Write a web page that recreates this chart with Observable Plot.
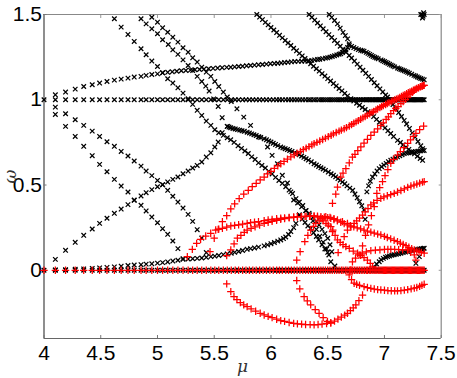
<!DOCTYPE html>
<html><head><meta charset="utf-8">
<script src="https://cdn.jsdelivr.net/npm/d3@7"></script>
<script src="https://cdn.jsdelivr.net/npm/@observablehq/plot@0.6"></script>
<style>html,body{margin:0;padding:0;background:#fff}svg{display:block}</style>
</head><body><div id="chart"></div>
<script>
const xTicks=[4,4.5,5,5.5,6,6.5,7,7.5];
const yTicks=[0,0.5,1,1.5];
const muGrid=[4,4.1,4.19,4.275,4.35,4.425,4.49,4.555,4.62,4.68,4.74,4.795,4.855,4.9,4.95,5,5.045,5.09,5.135,5.18,5.225,5.27,5.31,5.35,5.39,5.43,5.47,5.505,5.54,5.58,5.615,5.65,5.685,5.715,5.75,5.78,5.81,5.84,5.87,5.9,5.93,5.96,5.99,6.02,6.05,6.075,6.1,6.13,6.155,6.18,6.205,6.23,6.255,6.28,6.305,6.33,6.35,6.375,6.395,6.42,6.44,6.46,6.48,6.5,6.52,6.54,6.56,6.58,6.6,6.62,6.635,6.655,6.67,6.69,6.705,6.72,6.735,6.75,6.765,6.78,6.795,6.81,6.825,6.84,6.85,6.865,6.875,6.89,6.9,6.915,6.925,6.935,6.95,6.96,6.97,6.98,6.99,7,7.01,7.02,7.03,7.04,7.05,7.06,7.07,7.08,7.09,7.1,7.11,7.12,7.13,7.14,7.15,7.16,7.17,7.18,7.19,7.2,7.21,7.22,7.23,7.24,7.25,7.26,7.27,7.28,7.29,7.3,7.31,7.32,7.33,7.34,7.35];
const flatLevelsBlack=[0,1];
const flatLevelRed=[0];
// black branches [mu, omega]
const blackRise=[[4.1,.064],[4.19,.117],[4.275,.164],[4.35,.205],[4.425,.242],[4.49,.275],[4.555,.305],[4.62,.334],[4.68,.359],[4.74,.385],[4.795,.412],[4.855,.436],[4.9,.455],[4.95,.473],[5,.49],[5.045,.502],[5.09,.518],[5.135,.533],[5.18,.547],[5.225,.566],[5.27,.582],[5.31,.6],[5.35,.615],[5.39,.635],[5.43,.664],[5.47,.689],[5.505,.723],[5.535,.752],[5.57,.807]];
const blackL1=[[4.1,.957],[4.19,.918],[4.275,.883],[4.35,.85],[4.425,.816],[4.49,.785],[4.555,.754],[4.62,.727],[4.68,.697],[4.74,.67],[4.795,.641],[4.855,.611],[4.9,.582],[4.95,.555],[5,.527],[5.045,.502],[5.09,.469],[5.135,.434],[5.18,.4],[5.225,.365],[5.27,.328],[5.31,.287],[5.35,.238],[5.39,.189],[5.43,.104]];
const blackL2=[[4.1,.914],[4.19,.844],[4.275,.785],[4.35,.727],[4.425,.672],[4.49,.621],[4.555,.578],[4.62,.533],[4.68,.494],[4.74,.459],[4.795,.41],[4.855,.381],[4.9,.348],[4.95,.312],[5,.279],[5.045,.244],[5.09,.211],[5.135,.172],[5.18,.127],[5.225,.068]];
const blackM=[[4.62,1.475],[4.68,1.426],[4.74,1.383],[4.795,1.342],[4.855,1.299],[4.9,1.264],[4.95,1.227],[5,1.195],[5.045,1.158],[5.09,1.123],[5.135,1.098],[5.18,1.07],[5.225,1.039],[5.27,1.006],[5.31,.973],[5.35,.938],[5.39,.908],[5.43,.875],[5.47,.85],[5.505,.824],[5.54,.807],[5.58,.791],[5.615,.777],[5.645,.765],[5.675,.75],[5.71,.73],[5.74,.715],[5.77,.7],[5.8,.685],[5.83,.665],[5.86,.65],[5.89,.63],[5.92,.615],[5.95,.6],[5.98,.58],[6.01,.565],[6.04,.545],[6.07,.527],[6.1,.51],[6.13,.49],[6.16,.47],[6.19,.45],[6.22,.42],[6.25,.4],[6.28,.38],[6.31,.35],[6.34,.325],[6.37,.29],[6.4,.24],[6.43,.2],[6.46,.165],[6.49,.125],[6.51,.09]];
const blackN1=[[4.855,1.475],[4.9,1.445],[4.95,1.416],[5,1.387],[5.045,1.352],[5.095,1.324],[5.135,1.293],[5.18,1.266],[5.225,1.234],[5.27,1.201],[5.31,1.172],[5.35,1.137],[5.39,1.107],[5.425,1.08],[5.455,1.051],[5.495,1.005],[5.535,.961],[5.57,.895],[5.615,.844]];
const blackN2=[[4.95,1.484],[5,1.455],[5.045,1.422],[5.09,1.396],[5.135,1.367],[5.18,1.338],[5.225,1.305],[5.27,1.279],[5.31,1.246],[5.35,1.221],[5.39,1.191],[5.43,1.162],[5.47,1.137],[5.505,1.107],[5.54,1.078],[5.58,1.045],[5.615,1.016],[5.65,.99],[5.7,.947],[5.76,.898],[5.82,.85],[5.895,.781],[5.97,.723],[6.01,.674],[6.057,.625],[6.1,.557],[6.145,.512],[6.175,.46],[6.2,.412],[6.235,.395],[6.27,.372],[6.305,.35],[6.336,.334],[6.37,.31],[6.4,.285],[6.424,.266],[6.45,.24],[6.475,.215],[6.5,.188],[6.52,.15],[6.536,.109]];
const blackBand=[[5.615,.844],[5.63,.84],[5.645,.836],[5.665,.832],[5.685,.829],[5.705,.825],[5.725,.822],[5.745,.818],[5.765,.815],[5.79,.81],[5.81,.805],[5.83,.8],[5.85,.795],[5.87,.79],[5.89,.784],[5.91,.779],[5.94,.771],[5.96,.765],[5.98,.758],[6,.752],[6.02,.745],[6.04,.738],[6.06,.731],[6.086,.723],[6.105,.718],[6.125,.713],[6.145,.708],[6.165,.703],[6.185,.697],[6.21,.69],[6.233,.684],[6.25,.678],[6.27,.67],[6.29,.662],[6.31,.654],[6.33,.646],[6.355,.636],[6.38,.625],[6.4,.617],[6.42,.609],[6.44,.601],[6.46,.594],[6.48,.586],[6.505,.576],[6.53,.566],[6.55,.557],[6.57,.548],[6.59,.538],[6.61,.528],[6.63,.518],[6.65,.507],[6.67,.495],[6.695,.482],[6.72,.469],[6.74,.447],[6.76,.425],[6.78,.402],[6.8,.378],[6.82,.354],[6.83,.299]];
const blackUpper=[[4.1,1.029],[4.19,1.045],[4.275,1.0625],[4.35,1.078],[4.425,1.088],[4.49,1.098],[4.555,1.107],[4.62,1.115],[4.68,1.121],[4.74,1.127],[4.795,1.133],[4.855,1.137],[4.9,1.143],[4.95,1.148],[5,1.152],[5.045,1.158],[5.09,1.161],[5.13,1.164],[5.17,1.167],[5.21,1.17],[5.25,1.172],[5.29,1.174],[5.33,1.176],[5.37,1.178],[5.41,1.18],[5.45,1.182],[5.49,1.184],[5.53,1.186],[5.57,1.188],[5.61,1.19],[5.645,1.191],[5.68,1.193],[5.715,1.195],[5.75,1.197],[5.785,1.199],[5.82,1.201],[5.855,1.203],[5.89,1.205],[5.925,1.207],[5.96,1.209],[5.995,1.211],[6.03,1.213],[6.06,1.214],[6.09,1.216],[6.12,1.218],[6.15,1.22],[6.18,1.222],[6.21,1.224],[6.24,1.225],[6.27,1.226],[6.3,1.227],[6.336,1.228],[6.36,1.231],[6.385,1.234],[6.41,1.236],[6.43,1.238],[6.455,1.241],[6.48,1.244],[6.5,1.246],[6.52,1.25],[6.54,1.254],[6.56,1.258],[6.58,1.263],[6.6,1.267],[6.615,1.27],[6.63,1.277],[6.645,1.284],[6.66,1.293],[6.675,1.306],[6.69,1.318],[6.71,1.313],[6.73,1.306],[6.75,1.3],[6.77,1.294],[6.79,1.29],[6.805,1.287],[6.82,1.285],[6.84,1.278],[6.855,1.272],[6.87,1.266],[6.885,1.26],[6.9,1.254],[6.915,1.249],[6.93,1.245],[6.945,1.24],[6.97,1.234],[6.985,1.229],[7,1.224],[7.015,1.219],[7.03,1.214],[7.045,1.208],[7.06,1.203],[7.075,1.198],[7.09,1.193],[7.115,1.186],[7.13,1.182],[7.145,1.178],[7.16,1.174],[7.175,1.17],[7.19,1.165],[7.205,1.161],[7.22,1.156],[7.24,1.15],[7.26,1.143],[7.275,1.139],[7.29,1.134],[7.305,1.129],[7.32,1.125],[7.335,1.121],[7.35,1.117]];
const blackT1=[[5.875,1.5],[5.9,1.485],[5.925,1.47],[5.95,1.454],[5.975,1.439],[6,1.424],[6.025,1.409],[6.05,1.394],[6.075,1.378],[6.1,1.363],[6.125,1.348],[6.15,1.333],[6.175,1.318],[6.2,1.302],[6.225,1.287],[6.25,1.272],[6.275,1.257],[6.3,1.242],[6.325,1.226],[6.35,1.211],[6.375,1.197],[6.4,1.182],[6.425,1.168],[6.45,1.153],[6.475,1.139],[6.5,1.124],[6.525,1.11],[6.55,1.095],[6.575,1.081],[6.6,1.066],[6.625,1.052],[6.65,1.037],[6.675,1.023],[6.704,1.006],[6.73,.993],[6.755,.98],[6.78,.968],[6.805,.955],[6.83,.943],[6.855,.93],[6.88,.918],[6.905,.901],[6.93,.885],[6.955,.868],[6.98,.851],[7.005,.835],[7.03,.818],[7.055,.802],[7.08,.785],[7.115,.762],[7.14,.749],[7.165,.736],[7.19,.722],[7.215,.709],[7.24,.696],[7.265,.683],[7.29,.669],[7.315,.656],[7.336,.645]];
const blackT2=[[6.336,1.5],[6.36,1.484],[6.385,1.467],[6.41,1.45],[6.435,1.433],[6.46,1.416],[6.485,1.399],[6.51,1.382],[6.535,1.365],[6.56,1.348],[6.585,1.331],[6.61,1.314],[6.635,1.297],[6.66,1.28],[6.689,1.26],[6.71,1.245],[6.735,1.227],[6.76,1.209],[6.785,1.191],[6.81,1.173],[6.835,1.155],[6.86,1.137],[6.885,1.119],[6.91,1.1],[6.935,1.082],[6.96,1.064],[6.985,1.046],[7.01,1.028],[7.027,1.016],[7.05,.995],[7.075,.972],[7.1,.948],[7.125,.925],[7.15,.902],[7.174,.879],[7.195,.858],[7.22,.832],[7.245,.806],[7.27,.781],[7.295,.755],[7.32,.73],[7.336,.713]];
const blackT3=[[6.513,1.5],[6.535,1.483],[6.56,1.465],[6.586,1.445],[6.61,1.42],[6.635,1.395],[6.655,1.376],[6.675,1.357],[6.689,1.328]];
const blackT4=[[6.845,.46],[6.86,.495],[6.875,.522],[6.895,.547],[6.915,.565],[6.935,.582],[6.954,.596],[6.975,.607],[6.995,.617],[7.015,.627],[7.035,.637],[7.056,.645],[7.075,.652],[7.095,.659],[7.115,.665],[7.135,.672],[7.155,.678],[7.174,.684],[7.195,.687],[7.215,.689],[7.235,.691],[7.255,.694],[7.275,.696],[7.295,.698],[7.315,.7],[7.335,.702],[7.35,.703]];
const blackTopCluster=[[7.32,1.5],[7.33,1.5],[7.34,1.49],[7.35,1.5],[7.335,1.48],[7.345,1.51]];
const blackLow=[[4.1,.002],[4.19,.004],[4.275,.006],[4.35,.008],[4.425,.011],[4.49,.014],[4.555,.017],[4.62,.02],[4.68,.024],[4.74,.028],[4.795,.031],[4.855,.033],[4.9,.036],[4.95,.038],[5,.042],[5.045,.045],[5.09,.049],[5.135,.054],[5.18,.059],[5.225,.064],[5.27,.066],[5.31,.068],[5.35,.07],[5.39,.072],[5.43,.076],[5.47,.08],[5.505,.083],[5.54,.087],[5.58,.092],[5.615,.096],[5.65,.1],[5.68,.105],[5.715,.11],[5.75,.116],[5.79,.123],[5.82,.127],[5.855,.131],[5.89,.136],[5.94,.143],[5.97,.149],[6,.156],[6.03,.163],[6.06,.171],[6.086,.178],[6.11,.186],[6.13,.195],[6.155,.21],[6.175,.227],[6.2,.25],[6.22,.275],[6.25,.324]];
const blackDown=[[6.25,.324],[6.275,.3],[6.3,.28],[6.325,.26],[6.35,.246],[6.375,.22],[6.4,.198],[6.42,.178],[6.45,.15],[6.475,.125],[6.5,.105],[6.527,.05],[6.563,.025]];
const blackRight=[[6.91,.018],[6.93,.037],[6.954,.05],[6.97,.062],[6.99,.07],[7.01,.076],[7.027,.08],[7.045,.084],[7.065,.088],[7.085,.091],[7.105,.094],[7.125,.097],[7.145,.1],[7.165,.104],[7.185,.107],[7.205,.11],[7.225,.113],[7.245,.116],[7.263,.119],[7.28,.121],[7.295,.123],[7.31,.125],[7.325,.127],[7.34,.128],[7.35,.129]];
const blackRightExtra=[[7.277,.041],[7.307,.08],[7.336,.119]];
// red branches
const redTop=[[5.463,.109],[5.5,.188],[5.535,.24],[5.572,.285],[5.61,.32],[5.646,.36],[5.68,.39],[5.72,.42],[5.76,.447],[5.8,.468],[5.835,.49],[5.87,.51],[5.905,.53],[5.94,.547],[5.97,.565],[6,.58],[6.03,.597],[6.06,.612],[6.086,.625],[6.115,.638],[6.145,.652],[6.175,.665],[6.205,.677],[6.23,.687],[6.26,.697],[6.285,.708],[6.31,.716],[6.335,.725],[6.36,.735],[6.38,.742],[6.405,.75],[6.43,.758],[6.455,.767],[6.48,.775],[6.505,.784],[6.53,.792],[6.55,.8],[6.575,.808],[6.6,.816],[6.62,.822],[6.645,.83],[6.665,.837],[6.69,.846],[6.71,.854],[6.73,.862],[6.75,.87],[6.77,.878],[6.79,.886],[6.81,.894],[6.83,.902],[6.85,.91],[6.87,.918],[6.89,.926],[6.905,.932],[6.925,.94],[6.94,.946],[6.96,.954],[6.975,.96],[6.99,.966],[7.01,.972],[7.025,.978],[7.04,.983],[7.06,.99],[7.075,.995],[7.09,.999],[7.105,1.003],[7.12,1.008],[7.135,1.014],[7.15,1.02],[7.165,1.025],[7.18,1.03],[7.195,1.036],[7.21,1.041],[7.225,1.046],[7.24,1.051],[7.255,1.056],[7.27,1.061],[7.285,1.066],[7.3,1.071],[7.315,1.076],[7.33,1.08],[7.345,1.084]];
const redFlat=[[5.263,.08],[5.307,.123],[5.345,.158],[5.38,.182],[5.425,.201],[5.469,.217],[5.513,.236],[5.54,.241],[5.572,.246],[5.61,.253],[5.646,.26],[5.68,.263],[5.715,.267],[5.75,.27],[5.79,.275],[5.82,.279],[5.855,.282],[5.89,.285],[5.94,.291],[5.975,.295],[6.01,.298],[6.05,.302],[6.086,.305],[6.12,.307],[6.16,.31],[6.2,.312],[6.233,.314],[6.265,.315],[6.3,.316],[6.34,.317],[6.38,.318],[6.41,.317],[6.44,.315],[6.47,.312],[6.5,.308],[6.527,.305],[6.555,.298],[6.585,.29],[6.615,.282],[6.645,.274],[6.674,.266],[6.7,.261],[6.73,.255],[6.76,.249],[6.79,.243],[6.82,.236],[6.85,.23],[6.88,.224],[6.91,.218],[6.94,.212],[6.968,.207],[7,.199],[7.025,.192],[7.055,.184],[7.085,.176],[7.115,.168],[7.14,.16],[7.165,.152],[7.19,.144],[7.215,.135],[7.24,.127],[7.263,.119],[7.285,.114],[7.305,.11],[7.325,.105],[7.35,.1]];
const redInner=[[5.61,.086],[5.646,.119],[5.675,.155],[5.704,.188],[5.735,.205],[5.765,.222],[5.79,.236],[5.825,.246],[5.86,.255],[5.9,.265],[5.94,.275],[5.975,.281],[6.01,.287],[6.05,.293],[6.086,.299],[6.12,.303],[6.16,.307],[6.2,.311],[6.233,.314],[6.27,.315],[6.31,.316],[6.345,.317],[6.38,.318],[6.41,.312],[6.44,.305],[6.46,.29],[6.485,.275],[6.505,.265],[6.527,.256],[6.545,.235],[6.565,.205],[6.586,.178],[6.61,.163],[6.635,.15],[6.66,.139],[6.69,.128],[6.725,.113],[6.763,.1],[6.79,.088],[6.82,.074],[6.85,.06],[6.875,.04],[6.895,.02]];
const redBottom=[[5.61,-.08],[5.646,-.125],[5.674,-.154],[5.7,-.172],[5.73,-.19],[5.76,-.203],[5.79,-.213],[5.825,-.226],[5.865,-.24],[5.905,-.252],[5.94,-.262],[5.975,-.27],[6.01,-.278],[6.05,-.287],[6.086,-.295],[6.12,-.3],[6.16,-.306],[6.2,-.311],[6.233,-.314],[6.27,-.316],[6.305,-.318],[6.345,-.319],[6.38,-.32],[6.415,-.318],[6.45,-.316],[6.49,-.312],[6.527,-.307],[6.56,-.298],[6.59,-.286],[6.62,-.274],[6.65,-.263],[6.674,-.252],[6.7,-.236],[6.725,-.22],[6.748,-.203],[6.775,-.178],[6.807,-.145]];
const redLoopUp=[[6.227,.06],[6.257,.109],[6.298,.168],[6.325,.205],[6.35,.236],[6.375,.258],[6.395,.275],[6.425,.29],[6.455,.303],[6.483,.314],[6.52,.31],[6.555,.303],[6.586,.295],[6.63,.285],[6.674,.275]];
const redLoopDown=[[6.227,-.06],[6.254,-.109],[6.292,-.154],[6.32,-.18],[6.35,-.203],[6.39,-.23],[6.424,-.252],[6.46,-.277],[6.498,-.3],[6.527,-.31]];
const redRise=[[6.571,.447],[6.586,.488],[6.615,.547],[6.635,.57],[6.66,.596],[6.69,.63],[6.718,.664],[6.74,.68],[6.765,.702],[6.792,.723],[6.82,.745],[6.85,.768],[6.88,.791],[6.91,.81],[6.94,.83],[6.968,.85],[6.99,.865],[7.015,.885],[7.035,.9],[7.056,.918],[7.08,.936],[7.1,.95],[7.12,.96],[7.145,.977],[7.165,.99],[7.185,1.003],[7.205,1.016],[7.225,1.03],[7.245,1.043],[7.263,1.055],[7.28,1.062],[7.3,1.07],[7.32,1.077],[7.335,1.08],[7.35,1.084]];
const redStray=[[6.542,.393],[6.542,.227],[6.592,.104]];
const redRight1=[[6.645,.197],[6.674,.236],[6.705,.255],[6.733,.275],[6.755,.29],[6.78,.306],[6.807,.324],[6.83,.342],[6.855,.362],[6.88,.383],[6.905,.395],[6.935,.41],[6.968,.422],[6.995,.43],[7.025,.437],[7.055,.444],[7.086,.451],[7.115,.459],[7.145,.468],[7.175,.477],[7.205,.486],[7.233,.494],[7.26,.5],[7.285,.506],[7.31,.511],[7.335,.517],[7.35,.52]];
const redLowerRight=[[6.689,-.027],[6.71,-.055],[6.733,-.076],[6.755,-.082],[6.78,-.088],[6.82,-.096],[6.85,-.101],[6.88,-.106],[6.91,-.11],[6.94,-.113],[6.968,-.115],[7,-.117],[7.03,-.119],[7.06,-.12],[7.09,-.121],[7.115,-.121],[7.145,-.119],[7.175,-.116],[7.205,-.113],[7.235,-.109],[7.263,-.105],[7.285,-.101],[7.31,-.094],[7.33,-.088],[7.35,-.082]];
const redUpperRight=[[6.704,.002],[6.718,.05],[6.745,.072],[6.777,.09],[6.805,.1],[6.84,.108],[6.88,.115],[6.92,.118],[6.96,.12],[7,.122],[7.03,.122],[7.056,.123],[7.09,.122],[7.125,.121],[7.16,.12],[7.204,.119],[7.23,.106],[7.263,.09],[7.277,.06]];
const redRight2=[[6.807,.143],[6.833,.205],[6.86,.266],[6.885,.32],[6.91,.373],[6.933,.451],[6.958,.485],[6.983,.52],[7.005,.555],[7.03,.59],[7.056,.627],[7.08,.65],[7.115,.676],[7.14,.696],[7.17,.72],[7.204,.744],[7.23,.765],[7.255,.785],[7.277,.803],[7.31,.825],[7.345,.846]];

const blackBranches=[blackRise,blackL1,blackL2,blackM,blackN1,blackN2,blackBand,blackUpper,blackT1,blackT2,blackT3,blackT4,blackTopCluster,blackLow,blackDown,blackRight,blackRightExtra];
const redBranches=[redTop,redFlat,redInner,redBottom,redLoopUp,redLoopDown,redRise,redStray,redRight1,redLowerRight,redUpperRight,redRight2];
const blackPts=blackBranches.flat();
const redPts=redBranches.flat();

const plot=Plot.plot({
  width:457,height:378,
  marginLeft:43.5,marginRight:16.3,marginTop:14,marginBottom:40,
  style:{fontFamily:"'Liberation Sans',Arial,sans-serif",background:"#fff",overflow:"visible"},
  x:{domain:[4,7.5],label:null},
  y:{domain:[-0.4,1.5],label:null},
  marks:[
    Plot.ruleY([1.5],{stroke:"#888",strokeWidth:1.2}),
    Plot.ruleX([7.5],{stroke:"#888",strokeWidth:1.2}),
    Plot.ruleY([-0.4],{stroke:"#666",strokeWidth:1.2}),
    Plot.ruleX([4],{stroke:"#444",strokeWidth:1.2}),
    Plot.axisX({anchor:"bottom",ticks:xTicks,tickSize:0,tickPadding:7,fontSize:21,label:null,tickFormat:d=>String(d)}),
    Plot.axisY({anchor:"left",ticks:yTicks,tickSize:0,tickPadding:2,fontSize:21,label:null,tickFormat:d=>String(d)}),
    Plot.axisX({anchor:"bottom",ticks:xTicks,tickSize:-3,fill:"none",stroke:"#777",label:null}),
    Plot.axisX({anchor:"top",ticks:xTicks,tickSize:-3,fill:"none",stroke:"#999",label:null}),
    Plot.axisY({anchor:"left",ticks:yTicks,tickSize:-3,fill:"none",stroke:"#777",label:null}),
    Plot.axisY({anchor:"right",ticks:yTicks,tickSize:-3,fill:"none",stroke:"#999",label:null}),
    Plot.dot(muGrid,{x:d=>d,y:()=>flatLevelsBlack[1],symbol:"times",r:2.2,stroke:"#000",strokeWidth:1.25}),
    Plot.dot(muGrid,{x:d=>d,y:()=>flatLevelsBlack[0],symbol:"times",r:2.2,stroke:"#000",strokeWidth:1.25}),
    Plot.dot(blackPts,{x:d=>d[0],y:d=>d[1],symbol:"times",r:2.2,stroke:"#000",strokeWidth:1.25}),
    Plot.dot(muGrid,{x:d=>d,y:()=>flatLevelRed[0],symbol:"plus",r:2.5,stroke:"#f00",strokeWidth:1.25}),
    Plot.dot(redPts,{x:d=>d[0],y:d=>d[1],symbol:"plus",r:2.5,stroke:"#f00",strokeWidth:1.25}),
    Plot.text(["μ"],{frameAnchor:"bottom",textAnchor:"middle",lineAnchor:"middle",dy:28,fontSize:17,fontStyle:"italic",fontFamily:"'DejaVu Serif',serif",fill:"#333"}),
    Plot.text(["ω"],{frameAnchor:"left",textAnchor:"middle",lineAnchor:"middle",dx:-33,rotate:-90,fontSize:17,fontStyle:"italic",fontFamily:"'DejaVu Serif',serif",fill:"#333"})
  ]
});
document.getElementById("chart").append(plot);
</script></body></html>
